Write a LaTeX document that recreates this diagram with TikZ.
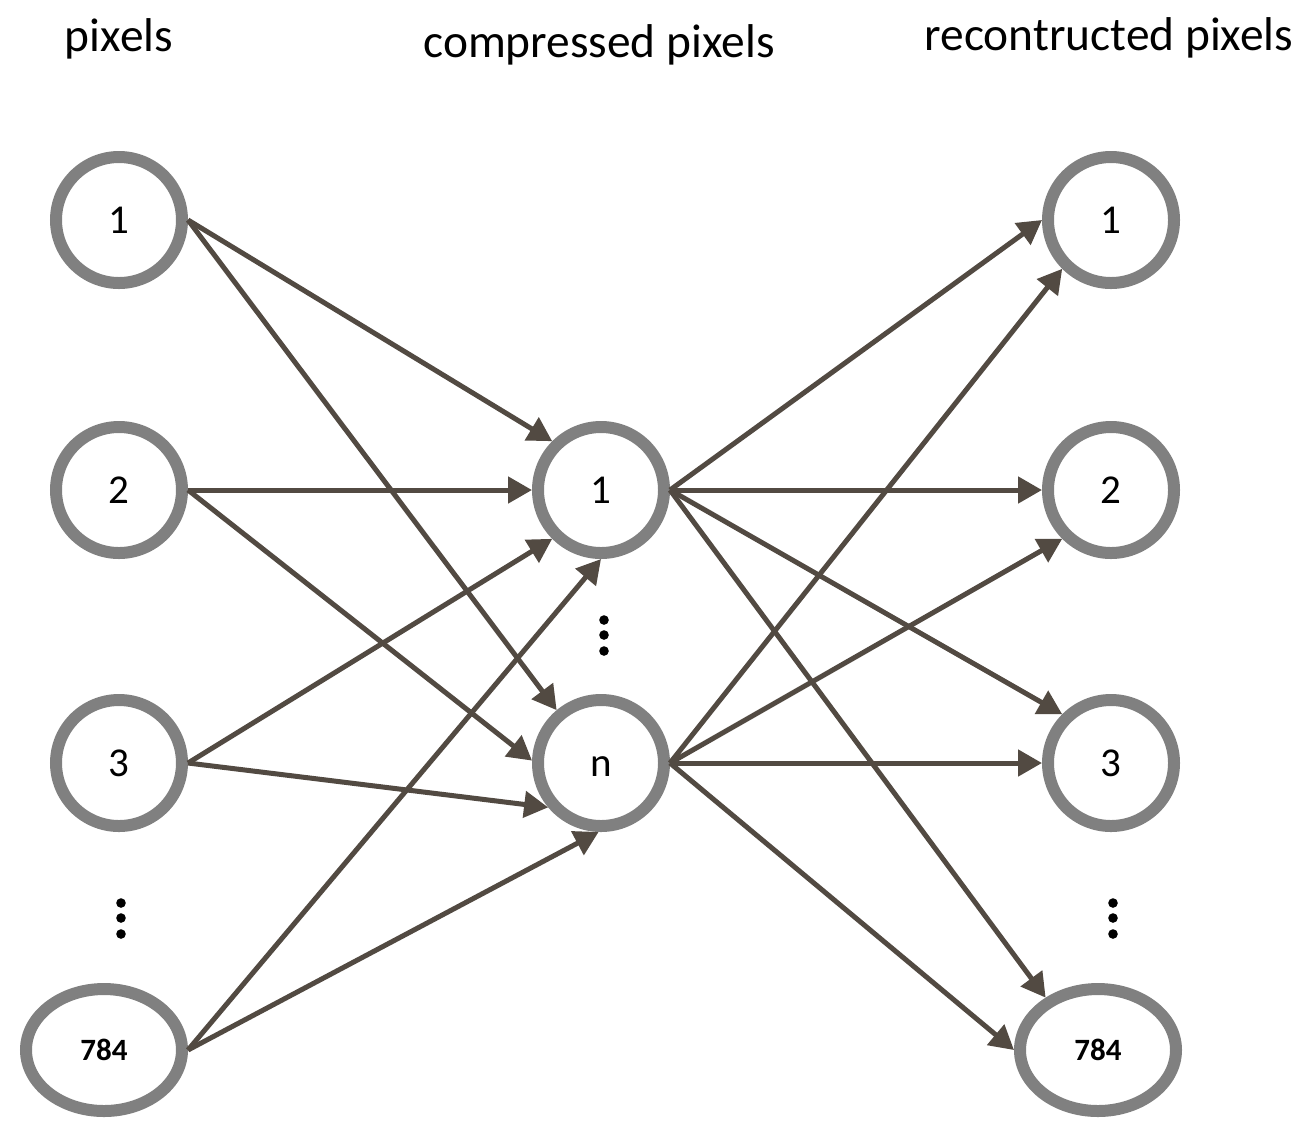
\documentclass[tikz,border=0pt]{standalone}
\usepackage{fontspec}
\setmainfont{Carlito}
\usetikzlibrary{arrows.meta,shapes.geometric}
\definecolor{ringgray}{RGB}{128,128,128}
\definecolor{linkbrown}{RGB}{82,74,66}
\begin{document}
\begin{tikzpicture}[x=0.5pt,y=-0.5pt,
  neuron/.style={circle,draw=ringgray,line width=6pt,minimum size=63pt,inner sep=0pt,font=\fontsize{20.5}{24}\selectfont,text height=13pt,text depth=0pt},
  bigneuron/.style={ellipse,draw=ringgray,line width=6pt,minimum width=78pt,minimum height=61pt,inner sep=0pt,font=\bfseries\fontsize{15.5}{18}\selectfont},
  link/.style={draw=linkbrown,line width=2.5pt,-{Triangle[length=12pt,width=13pt]}},
  title/.style={anchor=base,font=\fontsize{23.7}{28}\selectfont,inner sep=0pt},
  vdot/.style={circle,fill=black,inner sep=0pt,minimum size=4.8pt}]
\useasboundingbox (0,0) rectangle (1306,1121);
% titles
\node[title] (t1) at (119,51) {pixels};
\node[title] (t2) at (599,57) {compressed pixels};
\node[title] (t3) at (1109,50) {recontructed pixels};
% input layer
\node[neuron] (i1) at (119,220) {1};
\node[neuron] (i2) at (119,490) {2};
\node[neuron] (i3) at (119,763) {3};
\node[bigneuron] (i4) at (104,1050) {784};
% hidden layer
\node[neuron] (h1) at (601,490) {1};
\node[neuron] (hn) at (601,763) {n};
% output layer
\node[neuron] (o1) at (1111,220) {1};
\node[neuron] (o2) at (1111,490) {2};
\node[neuron] (o3) at (1111,763) {3};
\node[bigneuron] (o4) at (1098,1050) {784};
% dots
\node[vdot] (dl1) at (121,903) {};
\node[vdot] (dl2) at (121,918) {};
\node[vdot] (dl3) at (121,934) {};
\node[vdot] (dm1) at (604,620) {};
\node[vdot] (dm2) at (604,635) {};
\node[vdot] (dm3) at (604,651) {};
\node[vdot] (dr1) at (1113,903) {};
\node[vdot] (dr2) at (1113,918) {};
\node[vdot] (dr3) at (1113,934) {};
% encoder links
\draw[link] (i1.east) -- (h1.135);
\draw[link] (i1.east) -- (hn.130);
\draw[link] (i2.east) -- (h1.west);
\draw[link] (i2.east) -- (hn.178);
\draw[link] (i3.east) -- (h1.225);
\draw[link] (i3.east) -- (hn.220);
\draw[link] (i4.east) -- (h1.south);
\draw[link] (i4.east) -- (hn.268);
% decoder links
\draw[link] (h1.east) -- (o1.west);
\draw[link] (h1.east) -- (o2.west);
\draw[link] (h1.east) -- (o3.135);
\draw[link] (h1.east) -- (o4.135);
\draw[link] (hn.east) -- (o1.225);
\draw[link] (hn.east) -- (o2.225);
\draw[link] (hn.east) -- (o3.west);
\draw[link] (hn.east) -- (o4.west);
\end{tikzpicture}
\end{document}
